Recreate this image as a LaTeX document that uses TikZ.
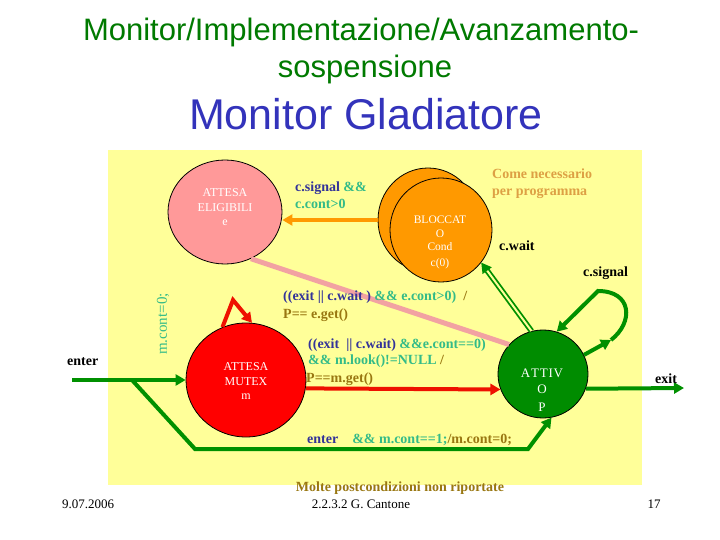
\documentclass[tikz,border=0pt]{standalone}
\usepackage{fontspec}
\setmainfont{Liberation Serif}
\newfontfamily\titlefont{Liberation Sans}
\usetikzlibrary{arrows.meta,shapes.geometric}
\definecolor{bgyellow}{HTML}{FFFF99}
\definecolor{pinkfill}{HTML}{FF9999}
\definecolor{orangefill}{HTML}{FF9900}
\definecolor{redfill}{HTML}{FF0000}
\definecolor{greenfill}{HTML}{008C00}
\definecolor{lgreen}{HTML}{009000}
\definecolor{pinkline}{HTML}{F2A2A2}
\definecolor{dblue}{HTML}{333399}
\definecolor{cteal}{HTML}{33BB88}
\definecolor{colive}{HTML}{997711}
\definecolor{ctan}{HTML}{DDA044}
\definecolor{tgreen}{HTML}{007A00}
\definecolor{tblue}{HTML}{3333BB}
\definecolor{arrowred}{HTML}{EE1100}
\tikzset{
  state/.style={ellipse, draw=black, line width=0.8pt, inner sep=0pt},
  stxt/.style={text=white, anchor=base, inner sep=0pt, font=\fontsize{12}{14}\selectfont},
  lb/.style={font=\bfseries\fontsize{14}{16}\selectfont, anchor=base west, inner sep=0pt},
  ftxt/.style={font=\fontsize{13}{15}\selectfont, anchor=base, inner sep=0pt},
  ttlA/.style={font=\titlefont\fontsize{31}{36}\selectfont, text=tgreen, anchor=base, inner sep=0pt},
  ttlB/.style={font=\titlefont\fontsize{43}{48}\selectfont, text=tblue, anchor=base, inner sep=0pt},
  garrow/.style={draw=lgreen, line width=4pt, -{Triangle[length=10pt,width=11pt]}},
  rarrow/.style={draw=arrowred, line width=4pt, -{Triangle[length=10pt,width=11pt]}},
  oarrow/.style={draw=orangefill, line width=4pt, -{Triangle[length=10pt,width=11pt]}},
  pinkedge/.style={draw=pinkline, line width=5pt},
  dgreen/.style={draw=lgreen, line width=1.8pt, double=bgyellow, double distance=2pt, -{Triangle[length=10pt,width=11pt]}}
}
\begin{document}
\begin{tikzpicture}[x=1pt,y=-1pt]
\useasboundingbox[fill=white] (0,0) rectangle (720,540);
\fill[bgyellow] (108,150) rectangle (642,485);

% titles
\node[ttlA] (t1) at (361,41) {Monitor/Implementazione/Avanzamento-};
\node[ttlA] (t2) at (365,78) {sospensione};
\node[ttlB] (t3) at (366,130) {Monitor Gladiatore};

% pink edge (behind)
\node[state, fill=pinkfill, minimum width=114pt, minimum height=104pt] (elig) at (225,212) {};
\node[state, fill=greenfill, minimum width=90pt, minimum height=88pt] (attivo) at (543,374) {};
\draw[pinkedge] (elig.-61) -- (attivo.139);

% states
\node[state, fill=orangefill, minimum width=100pt, minimum height=104pt] (blkback) at (428,220) {};
\node[state, fill=orangefill, minimum width=102pt, minimum height=104pt] (blk) at (441,230) {};
\node[state, fill=redfill, minimum width=120pt, minimum height=114pt] (mutex) at (246,380) {};

% state texts
\node[stxt] (e1) at (225,196.5) {ATTESA};
\node[stxt] (e2) at (225,211.5) {ELIGIBILI};
\node[stxt] (e3) at (225,225.5) {e};
\node[stxt, font=\fontsize{11.5}{14}\selectfont] (b1) at (440,223.5) {BLOCCAT};
\node[stxt, font=\fontsize{11.5}{14}\selectfont] (b2) at (440,237.5) {O};
\node[stxt, font=\fontsize{11.5}{14}\selectfont] (b3) at (440,250.5) {Cond};
\node[stxt, font=\fontsize{11.5}{14}\selectfont] (b4) at (440,266) {c(0)};
\node[stxt] (m1) at (246,370.5) {ATTESA};
\node[stxt] (m2) at (246,385.5) {MUTEX};
\node[stxt] (m3) at (246,399.5) {m};
\node[stxt, font=\fontsize{13}{15}\selectfont] (a1) at (542,377) {A\kern0.8pt T\kern0.8pt T\kern0.8pt I\kern0.8pt V};
\node[stxt, font=\fontsize{13}{15}\selectfont] (a2) at (542,393) {O};
\node[stxt, font=\fontsize{13}{15}\selectfont] (a3) at (542,411) {P};

% connectors
\draw[oarrow] (blkback.west) -- (blkback.west -| elig.east);
\draw[dgreen] (attivo.105) -- (blk.-39);

\coordinate (lp1) at (611,340);
\coordinate (lp2) at (598,291);
\draw[garrow] (attivo.25) -- (lp1);
\draw[garrow] (lp1) .. controls (634,322) and (632,291) .. (lp2) -- (attivo.72);

\coordinate (exitend) at (684,388);
\draw[garrow] (attivo.-19) -- (exitend);

\draw[rarrow] (mutex.-8) -- (attivo.200);
\coordinate (mtop) at (233,300);
\draw[rarrow, line join=miter] (mutex.114) -- (mtop) -- (mutex.84);

\coordinate (estart) at (72,380);
\coordinate (ebr) at (132,380);
\coordinate (ebl) at (195,449);
\coordinate (ebr2) at (528,449);
\draw[garrow] (estart) -- (mutex.west);
\draw[garrow, line join=miter] (ebr) -- (ebl) -- (ebr2) -- (attivo.-79);

% labels
\node[lb] (l1a) at (295,192) {\color{dblue}c.signal \color{cteal}\&\&};
\node[lb] (l1b) at (295,208) {\color{cteal}c.cont>0};
\node[lb] (l2a) at (492,179) {\color{ctan}Come necessario};
\node[lb] (l2b) at (492,196) {\color{ctan}per programma};
\node[lb] (l3) at (499,250) {c.wait};
\node[lb] (l4) at (583,276) {c.signal};
\node[lb] (l5a) at (283,300) {\color{dblue}((exit || c.wait ) \color{cteal}\&\& e.cont>0)\ \ \color{colive}/};
\node[lb] (l5b) at (283,318) {\color{colive}P== e.get()};
\node[lb] (l6a) at (308,348) {\color{dblue}((exit\ \ || c.wait) \color{cteal}\&\&e.cont==0)};
\node[lb] (l6b) at (308,364) {\color{cteal}\&\& m.look()!=NULL \color{colive}/};
\node[lb] (l6c) at (306,382) {\color{colive}P==m.get()};
\node[lb] (l7) at (655,383) {exit};
\node[lb] (l8) at (67,365) {enter};
\node[lb] (l9) at (307,443) {\color{dblue}enter\quad \color{cteal}\&\& m.cont==1;\color{colive}/m.cont=0;};
\node[rotate=90, font=\fontsize{15}{17}\selectfont, text=cteal, inner sep=0pt] (l10) at (163,324) {m.cont=0;};

% footer
\node[lb, anchor=base, text=colive] (f0) at (400,491) {Molte postcondizioni non riportate};
\node[ftxt] (f1) at (88,508) {9.07.2006};
\node[ftxt] (f2) at (361,508) {2.2.3.2 G. Cantone};
\node[ftxt] (f3) at (654,508) {17};
\end{tikzpicture}
\end{document}
